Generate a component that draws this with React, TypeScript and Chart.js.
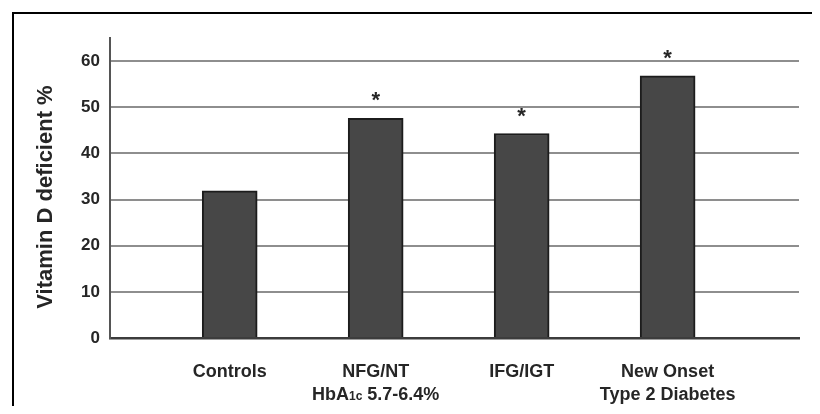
import React, { useEffect, useRef } from "react";
import { Chart, registerables } from "chart.js";

Chart.register(...registerables);

const categories: string[][] = [
  ["Controls"],
  ["NFG/NT", "HbA_{1c} 5.7-6.4%"],
  ["IFG/IGT"],
  ["New Onset", "Type 2 Diabetes"],
];
const values: number[] = [31.9, 47.6, 44.3, 56.8];
const significant: boolean[] = [false, true, true, true];
const yTicks: number[] = [0, 10, 20, 30, 40, 50, 60];
const yTitle = "Vitamin D deficient %";

const FONT = '"Liberation Sans", Arial, Helvetica, sans-serif';
const TEXT = "#262626";

function parseSegments(s: string) {
  const out: { t: string; small: boolean }[] = [];
  const re = /_\{([^}]*)\}/g;
  let last = 0;
  let m: RegExpExecArray | null;
  while ((m = re.exec(s))) {
    if (m.index > last) out.push({ t: s.slice(last, m.index), small: false });
    out.push({ t: m[1], small: true });
    last = m.index + m[0].length;
  }
  if (last < s.length) out.push({ t: s.slice(last), small: false });
  return out;
}

const annotations = {
  id: "annotations",
  afterDraw(chart: any) {
    const ctx = chart.ctx as CanvasRenderingContext2D;
    const xs = chart.scales.x;
    const ys = chart.scales.y;
    ctx.save();
    ctx.fillStyle = TEXT;
    // x labels
    const baselines = [376.5 - 338, 400 - 338];
    categories.forEach((lines, i) => {
      const cx = xs.getPixelForValue(i + 1);
      lines.forEach((line, li) => {
        const segs = parseSegments(line);
        const mainFont = `bold 18px ${FONT}`;
        const smallFont = `bold 12px ${FONT}`;
        let total = 0;
        segs.forEach((sg) => {
          ctx.font = sg.small ? smallFont : mainFont;
          total += ctx.measureText(sg.t).width;
        });
        let x = cx - total / 2;
        const y = ys.getPixelForValue(0) + baselines[li];
        ctx.textAlign = "left";
        ctx.textBaseline = "alphabetic";
        segs.forEach((sg) => {
          ctx.font = sg.small ? smallFont : mainFont;
          ctx.fillText(sg.t, x, y);
          x += ctx.measureText(sg.t).width;
        });
      });
    });
    // asterisks
    ctx.font = `bold 22px ${FONT}`;
    ctx.textAlign = "center";
    ctx.textBaseline = "alphabetic";
    values.forEach((v, i) => {
      if (!significant[i]) return;
      const cx = xs.getPixelForValue(i + 1);
      const y = ys.getPixelForValue(v) - 11;
      ctx.fillText("*", cx, y);
    });
    // y title
    ctx.translate(46, 197);
    ctx.rotate(-Math.PI / 2);
    ctx.font = `bold 22px ${FONT}`;
    ctx.textAlign = "center";
    ctx.textBaseline = "middle";
    ctx.fillText(yTitle, 0, 0);
    ctx.restore();
  },
};

export default function App() {
  const ref = useRef<HTMLCanvasElement | null>(null);
  useEffect(() => {
    if (!ref.current) return;
    const chart = new Chart(ref.current, {
      type: "bar",
      data: {
        datasets: [
          {
            data: values.map((v, i) => ({ x: i + 1, y: v })),
            backgroundColor: "#474747",
            borderColor: "#1c1c1c",
            borderWidth: 2,
            barThickness: 55,
          } as any,
        ],
      },
      options: {
        responsive: false,
        animation: false,
        devicePixelRatio: 1,
        layout: { padding: { top: 38, right: 21, left: 0, bottom: 0 } },
        plugins: {
          legend: { display: false },
          tooltip: { enabled: false },
        },
        scales: {
          x: {
            type: "linear",
            offset: false,
            min: 0.18,
            max: 4.9,
            grid: { display: false, drawTicks: false, offset: false },
            border: { display: true, color: "#3c3c3c", width: 2.5 },
            ticks: { display: false },
            afterFit(s: any) {
              s.height = 76;
            },
          },
          y: {
            min: 0,
            max: 65,
            afterBuildTicks(s: any) {
              s.ticks = yTicks.map((v) => ({ value: v }));
            },
            grid: {
              drawTicks: false,
              lineWidth: 2,
              color: (c: any) => (c.tick && c.tick.value === 0 ? "rgba(0,0,0,0)" : "#8e8e8e"),
            },
            border: { display: true, color: "#555555", width: 2 },
            ticks: {
              padding: 10,
              color: TEXT,
              font: { family: FONT, size: 17, weight: "bold" },
            },
            afterFit(s: any) {
              s.width = 110;
            },
          },
        },
      },
      plugins: [annotations],
    });
    return () => chart.destroy();
  }, []);

  return (
    <div style={{ position: "relative", width: 820, height: 414, margin: -8, overflow: "hidden", background: "#fff" }}>
      <canvas ref={ref} width={820} height={414} style={{ position: "absolute", left: 0, top: 0, width: 820, height: 414 }} />
      <div
        style={{
          position: "absolute",
          left: 12,
          top: 12,
          width: 808,
          height: 402,
          borderTop: "2px solid #000",
          borderLeft: "2px solid #000",
          boxSizing: "border-box",
          pointerEvents: "none",
        }}
      />
    </div>
  );
}
